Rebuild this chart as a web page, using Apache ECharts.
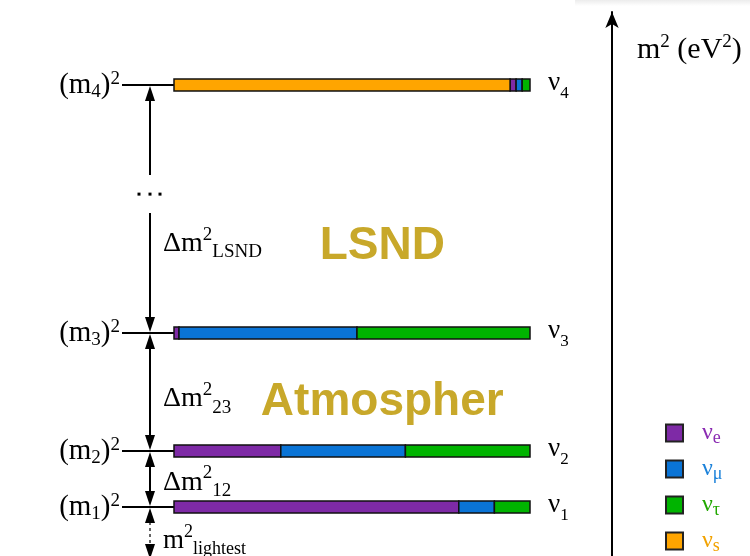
<!DOCTYPE html>
<html><head><meta charset="utf-8">
<script src="https://cdn.jsdelivr.net/npm/echarts@6/dist/echarts.min.js"></script>
<style>html,body{margin:0;padding:0;background:#fff}#c{width:750px;height:556px}</style>
</head><body><div id="c"></div>
<script>
// ---- data ----
const levels  = ['1', '2', '3', '4'];          // mass eigenstates ν1..ν4
const massSq  = [0.98, 2.1, 4.46, 9.42];       // m² level (arbitrary units, not to scale)
const fracS   = [0, 0, 0, 0.944];              // sterile admixture
const fracE   = [0.80, 0.30, 0.014, 0.017];
const fracMu  = [0.10, 0.35, 0.50, 0.017];
const fracTau = [0.10, 0.35, 0.486, 0.022];
const gapSub  = ['', '12', '23', 'LSND'];      // Δm² label for the gap below each level
const gapTag  = ['', '', 'Atmospher', 'LSND'];
const flavorNames = ['νe', 'νμ', 'ντ', 'νs'];

// ---- style ----
const SERIF = 'Liberation Serif';
const SANS = 'Liberation Sans';
const colors = { 'νs': '#FFA500', 'νe': '#7E2AA6', 'νμ': '#0A74D6', 'ντ': '#00B400' };
const textColors = { 'νe': '#8A2BB2', 'νμ': '#1C82DA', 'ντ': '#22A800', 'νs': '#F2A200' };
const gold = '#C8A82A';

// build stacked segments: order s, e, μ, τ
const order = [['νs', fracS], ['νe', fracE], ['νμ', fracMu], ['ντ', fracTau]];
const segData = {};
levels.forEach((_, i) => {
  let acc = 0;
  order.forEach(([name, arr]) => {
    (segData[name] = segData[name] || []).push([acc, acc + arr[i], massSq[i]]);
    acc += arr[i];
  });
});

function renderSeg(params, api) {
  const a = api.value(0), b = api.value(1), v = api.value(2);
  if (b - a <= 0) return null;
  const p0 = api.coord([a, v]), p1 = api.coord([b, v]);
  const h = 12;
  return { type: 'rect', shape: { x: p0[0], y: p0[1] - h / 2, width: p1[0] - p0[0], height: h },
    style: { fill: api.visual('color'), stroke: '#111', lineWidth: 1.5 } };
}

const gapLabelPos = [0, 0.56, 0.56, 0.64];
const dotsPos = 0.44;

function ln(x1, y1, x2, y2, w, dash) {
  return { type: 'line', shape: { x1, y1, x2, y2 }, style: { stroke: '#000', lineWidth: w || 2, lineDash: dash || null } };
}
function head(x, tip, dir) {
  const b = tip + dir * 15;
  return { type: 'polygon', shape: { points: [[x, tip], [x - 5, b], [x + 5, b]] }, style: { fill: '#000' } };
}
function txt(x, y, text, rich, align) {
  return { type: 'text', x, y, style: { text, rich, align: align || 'left', verticalAlign: 'middle', fill: '#000' } };
}
const richLeft = {
  a: { fontFamily: SERIF, fontSize: 29, color: '#000' },
  s: { fontFamily: SERIF, fontSize: 19, color: '#000', padding: [15, 0, 0, 0] },
  u: { fontFamily: SERIF, fontSize: 19, color: '#000', padding: [0, 0, 11, 0] }
};
const richNu = {
  a: { fontFamily: SERIF, fontSize: 27, color: '#000' },
  s: { fontFamily: SERIF, fontSize: 17, color: '#000', padding: [22, 0, 0, 0] }
};
const richDelta = {
  a: { fontFamily: SERIF, fontSize: 28, color: '#000' },
  u: { fontFamily: SERIF, fontSize: 19, color: '#000', padding: [0, 0, 18, 0] },
  s: { fontFamily: SERIF, fontSize: 19, color: '#000', padding: [17, 0, 0, 0] }
};
const richLight = {
  a: { fontFamily: SERIF, fontSize: 27, color: '#000' },
  u: { fontFamily: SERIF, fontSize: 18, color: '#000', padding: [0, 0, 18, 0] },
  s: { fontFamily: SERIF, fontSize: 18, color: '#000', padding: [17, 0, 0, 0] }
};

function renderLevel(params, api) {
  const i = params.dataIndex;
  const v = api.value(1);
  const p = api.coord([0, v]);
  const pr = api.coord([1, v]);
  const x0 = p[0], y = p[1];
  const ax = x0 - 24;
  const H = api.getHeight();
  const ch = [];
  ch.push(ln(x0 - 52, y, x0, y, 2));
  ch.push(txt(x0 - 54, y, '{a|(m}{s|' + levels[i] + '}{a|)}{u|2}', richLeft, 'right'));
  ch.push(txt(pr[0] + 18, y - 2, '{a|ν}{s|' + levels[i] + '}', richNu, 'left'));
  if (i === 0) {
    ch.push(head(ax, y + 1, 1));
    ch.push(ln(ax, y + 15, ax, H - 12, 1.2, [3, 3]));
    ch.push(head(ax, H + 3, -1));
    ch.push(txt(x0 - 11, y + 34, '{a|m}{u|2}{s|lightest}', richLight, 'left'));
  } else {
    const yp = api.coord([0, massSq[i - 1]])[1];
    ch.push(head(ax, y + 1, 1));
    ch.push(head(ax, yp - 1, -1));
    if (gapTag[i] === 'LSND') {
      const yd = y + (yp - y) * dotsPos;
      ch.push(ln(ax, y + 10, ax, yd - 19, 2));
      ch.push(ln(ax, yd + 19, ax, yp - 10, 2));
      [-11, 0, 10].forEach(dx => ch.push({ type: 'rect', shape: { x: ax + dx - 1.5, y: yd - 1.5, width: 3, height: 3 }, style: { fill: '#000' } }));
    } else {
      ch.push(ln(ax, y + 10, ax, yp - 10, 2));
    }
    const yl = y + (yp - y) * gapLabelPos[i];
    ch.push(txt(x0 - 11, yl, '{a|Δm}{u|2}{s|' + gapSub[i] + '}', richDelta, 'left'));
    if (gapTag[i]) {
      ch.push({ type: 'text', x: x0 + 0.585 * (pr[0] - x0), y: yl + 3, style: {
        text: gapTag[i], fontFamily: SANS, fontWeight: 'bold', fontSize: 46, fill: gold,
        align: 'center', verticalAlign: 'middle' } });
    }
  }
  return { type: 'group', children: ch };
}

const chart = echarts.init(document.getElementById('c'), null, { renderer: 'canvas' });
const legendRich = {};
flavorNames.forEach((n, k) => {
  legendRich['a' + k] = { fontFamily: SERIF, fontSize: 24, color: textColors[n], padding: [0, 0, 0, 14] };
  legendRich['s' + k] = { fontFamily: SERIF, fontSize: 18, color: textColors[n], padding: [10, 0, 0, 0] };
});

chart.setOption({
  animation: false,
  backgroundColor: '#fff',
  graphic: [{ type: 'rect', left: 575, top: 0, shape: { width: 175, height: 6 }, silent: true,
    style: { fill: new echarts.graphic.LinearGradient(0, 0, 0, 1, [{ offset: 0, color: '#ececec' }, { offset: 1, color: '#ffffff' }]) } }],
  grid: { left: 174, right: 220, top: 12, bottom: 0, outerBoundsMode: 'none', containLabel: false },
  xAxis: { type: 'value', min: 0, max: 1, show: false },
  yAxis: [
    { type: 'value', min: 0, max: 10.88, show: false },
    { type: 'value', min: 0, max: 10.88, position: 'right', offset: 82,
      axisLine: { show: true, onZero: false, symbol: ['none', 'arrow'], symbolSize: [10, 16], lineStyle: { color: '#000', width: 2 } },
      axisTick: { show: false }, axisLabel: { show: false }, splitLine: { show: false },
      name: '{a|m}{u|2}{a| (eV}{u|2}{a|)}', nameLocation: 'end', nameGap: -38,
      nameTextStyle: { align: 'left', verticalAlign: 'middle', padding: [0, 0, 0, 25],
        rich: { a: { fontFamily: SERIF, fontSize: 30, color: '#000' },
                u: { fontFamily: SERIF, fontSize: 19, color: '#000', padding: [0, 0, 15, 0] } } } }
  ],
  legend: {
    orient: 'vertical', left: 665, top: 421, height: 200, padding: 0, itemWidth: 17, itemHeight: 17, itemGap: 10,
    icon: 'rect', selectedMode: false,
    itemStyle: { borderColor: '#222', borderWidth: 2 },
    data: flavorNames,
    formatter: name => { const k = flavorNames.indexOf(name); return '{a' + k + '|ν}{s' + k + '|' + name.slice(1) + '}'; },
    textStyle: { rich: legendRich }
  },
  series: [
    ...flavorNames.map(n => ({
      name: n, type: 'custom', renderItem: renderSeg, data: segData[n],
      encode: { x: [0, 1], y: 2 }, itemStyle: { color: colors[n] }, z: 3
    })),
    { name: 'levels', type: 'custom', renderItem: renderLevel, silent: true, clip: false,
      data: massSq.map(v => [0, v]), encode: { x: 0, y: 1 }, z: 2 }
  ]
});
</script>
</body></html>
